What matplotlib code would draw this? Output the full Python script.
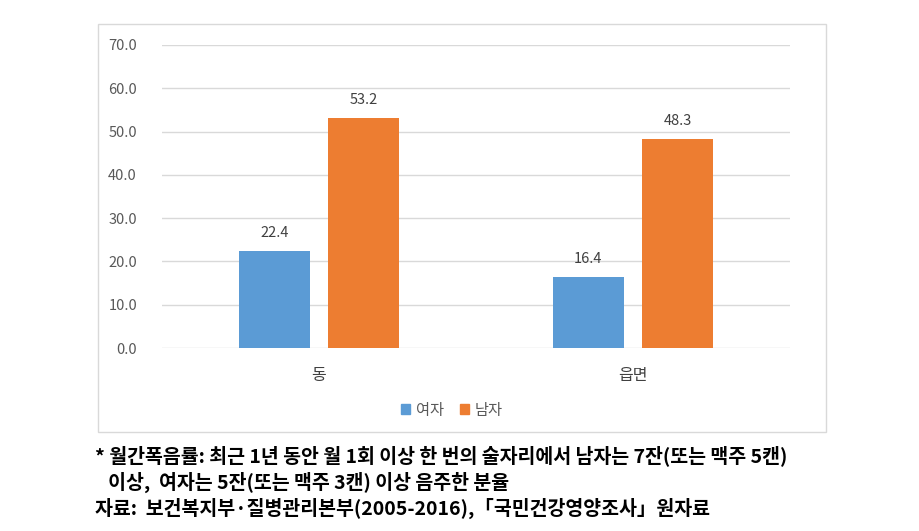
import matplotlib
matplotlib.use("Agg")
import matplotlib.pyplot as plt
from matplotlib.patches import Rectangle, Patch
import numpy as np

plt.rcParams['font.family'] = ['Noto Sans CJK KR', 'DejaVu Sans']

categories = ['동', '읍면']
series_names = ['여자', '남자']
female = [22.4, 16.4]
male = [53.2, 48.3]
yticks = [0, 10, 20, 30, 40, 50, 60, 70]
colors = ['#5B9BD5', '#ED7D31']

footnote_lines = [
    '* 월간폭음률: 최근 1년 동안 월 1회 이상 한 번의 술자리에서 남자는 7잔(또는 맥주 5캔)',
    '   이상,  여자는 5잔(또는 맥주 3캔) 이상 음주한 분율',
    '자료:  보건복지부·질병관리본부(2005-2016),「국민건강영양조사」원자료',
]

W, H = 919, 531
fig = plt.figure(figsize=(W / 100, H / 100), dpi=100)
fig.patch.set_facecolor('white')

# chart frame
fig.add_artist(Rectangle((98 / W, 1 - 432 / H), (826 - 98) / W, (432 - 24) / H,
                         transform=fig.transFigure, fill=False,
                         edgecolor='#D9D9D9', linewidth=1.0))

ax = fig.add_axes([162 / W, 1 - 348 / H, 628 / W, 303 / H])
x = np.arange(len(categories))
bw = 0.225
gap = 0.03
b1 = ax.bar(x - bw / 2 - gap, female, bw, color=colors[0], label=series_names[0], zorder=3)
b2 = ax.bar(x + bw / 2 + gap, male, bw, color=colors[1], label=series_names[1], zorder=3)

for bars, vals in ((b1, female), (b2, male)):
    for r, v in zip(bars, vals):
        ax.annotate(f'{v:.1f}', (r.get_x() + r.get_width() / 2, v),
                    xytext=(0, 8), textcoords='offset points',
                    ha='center', va='bottom', fontsize=10.5, color='#404040')

ax.set_xlim(-0.5, 1.5)
ax.set_ylim(0, 70)
ax.set_yticks(yticks)
ax.set_yticklabels([f'{t:.1f}' for t in yticks], fontsize=10.5, color='#595959')
ax.set_xticks(x)
ax.set_xticklabels(categories, fontsize=11.5, color='#404040')
ax.tick_params(axis='both', length=0)
ax.tick_params(axis='y', pad=18)
ax.tick_params(axis='x', pad=14)
ax.grid(axis='y', color='#D9D9D9', linewidth=1.0, zorder=0)
for s in ax.spines.values():
    s.set_visible(False)

handles = [Patch(color=colors[0], label=series_names[0]),
           Patch(color=colors[1], label=series_names[1])]
fig.legend(handles=handles, loc='center', bbox_to_anchor=(452 / W, 1 - 410 / H),
           ncol=2, frameon=False, fontsize=11, handlelength=0.6, handleheight=0.6,
           handletextpad=0.4, columnspacing=1.0, labelcolor='#595959')

ys = [456, 482, 508]
for line, yy in zip(footnote_lines, ys):
    fig.text(95 / W, 1 - yy / H, line, fontsize=14, color='black',
             ha='left', va='center', fontweight='bold')

fig.savefig('out.png', dpi=100)
